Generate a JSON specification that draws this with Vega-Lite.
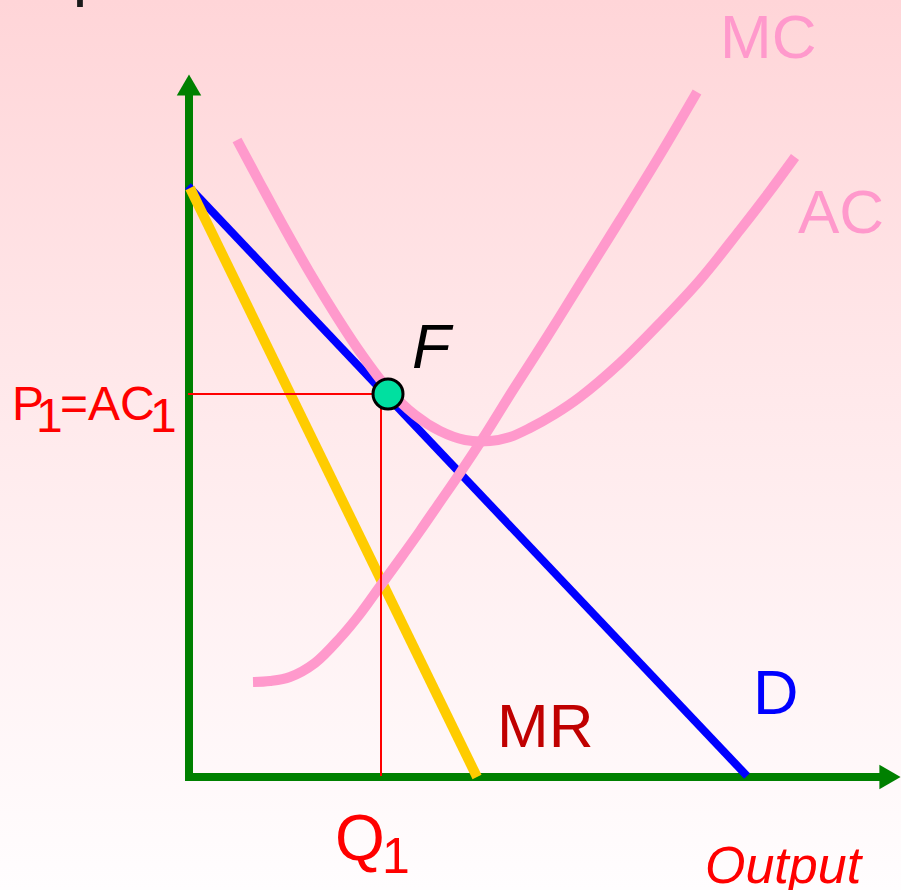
{
  "$schema": "https://vega.github.io/schema/vega-lite/v6.json",
  "width": 901,
  "height": 890,
  "autosize": {"type": "none"},
  "padding": 0,
  "background": "#ffffff",
  "config": {
    "view": {
      "stroke": null,
      "fill": {
        "gradient": "linear", "x1": 0, "y1": 0, "x2": 0, "y2": 1,
        "stops": [
          {"offset": 0, "color": "#ffd5d8"},
          {"offset": 0.45, "color": "#ffe9eb"},
          {"offset": 1, "color": "#fffdfe"}
        ]
      }
    },
    "text": {"font": "Liberation Sans", "align": "left", "baseline": "alphabetic"}
  },
  "datasets": {
    "axes": [
      {"x": 1, "y": -5, "x2": 1, "y2": 686},
      {"x": -3, "y": -1, "x2": 697, "y2": -1}
    ],
    "arrowUp": [{"x": 1, "y": 691}],
    "arrowRight": [{"x": 702, "y": -1}],
    "D": [{"x": 0, "y": 590}, {"x": 559, "y": 0}],
    "MR": [{"x": 2, "y": 588}, {"x": 289, "y": -1}],
    "MC": [
      {"x": 65, "y": 94}, {"x": 82, "y": 95}, {"x": 102, "y": 99}, {"x": 127, "y": 113},
      {"x": 152, "y": 138}, {"x": 172, "y": 162}, {"x": 193, "y": 191}, {"x": 212, "y": 217},
      {"x": 232, "y": 245}, {"x": 252, "y": 274}, {"x": 272, "y": 303}, {"x": 297, "y": 341},
      {"x": 325, "y": 386}, {"x": 359, "y": 439}, {"x": 392, "y": 492}, {"x": 432, "y": 556},
      {"x": 472, "y": 621}, {"x": 509, "y": 684}
    ],
    "AC": [
      {"x": 49, "y": 636}, {"x": 72, "y": 593}, {"x": 97, "y": 547}, {"x": 122, "y": 503},
      {"x": 147, "y": 462}, {"x": 172, "y": 424}, {"x": 200, "y": 387}, {"x": 227, "y": 361},
      {"x": 252, "y": 345}, {"x": 277, "y": 336}, {"x": 302, "y": 335}, {"x": 322, "y": 339},
      {"x": 342, "y": 348}, {"x": 367, "y": 362}, {"x": 392, "y": 379}, {"x": 432, "y": 413},
      {"x": 472, "y": 453}, {"x": 512, "y": 496}, {"x": 552, "y": 546}, {"x": 582, "y": 585},
      {"x": 607, "y": 619}
    ],
    "guides": [
      {"x": 0, "y": 382, "x2": 200, "y2": 382},
      {"x": 193, "y": 382, "x2": 193, "y2": 0}
    ],
    "F": [{"x": 200, "y": 382}],
    "pinkText": [{"x": 532, "y": 718, "t": "MC"}, {"x": 610, "y": 543, "t": "AC"}],
    "redText": [
      {"x": -176, "y": 356, "t": "P"}, {"x": -152, "y": 344, "t": "1"},
      {"x": -128, "y": 356, "t": "=AC"}, {"x": -38, "y": 344, "t": "1"}
    ],
    "qText": [{"x": 147, "y": -84, "t": "Q"}],
    "qSub": [{"x": 194, "y": -97, "t": "1"}],
    "outText": [{"x": 517, "y": -107, "t": "Output"}],
    "fText": [{"x": 224, "y": 408, "t": "F"}],
    "dText": [{"x": 565, "y": 62, "t": "D"}],
    "mrText": [{"x": 309, "y": 29, "t": "MR"}],
    "topText": [{"x": -116, "y": 769, "t": "P"}]
  },
  "encoding": {
    "x": {"field": "x", "type": "quantitative", "axis": null, "scale": {"domain": [-188, 713], "nice": false, "zero": false}},
    "y": {"field": "y", "type": "quantitative", "axis": null, "scale": {"domain": [-114, 776], "nice": false, "zero": false}}
  },
  "layer": [
    {
      "data": {"name": "axes"},
      "mark": {"type": "rule", "color": "#008000", "strokeWidth": 8},
      "encoding": {"x2": {"field": "x2"}, "y2": {"field": "y2"}}
    },
    {
      "data": {"name": "arrowUp"},
      "mark": {"type": "point", "shape": "triangle-up", "filled": true, "color": "#008000", "size": 600, "opacity": 1}
    },
    {
      "data": {"name": "arrowRight"},
      "mark": {"type": "point", "shape": "triangle-right", "filled": true, "color": "#008000", "size": 600, "opacity": 1}
    },
    {
      "data": {"name": "D"},
      "mark": {"type": "line", "color": "#0000ff", "strokeWidth": 8}
    },
    {
      "data": {"name": "MR"},
      "mark": {"type": "line", "color": "#ffcc00", "strokeWidth": 10}
    },
    {
      "data": {"name": "MC"},
      "mark": {"type": "line", "color": "#ff99cc", "strokeWidth": 10, "interpolate": "catmull-rom"}
    },
    {
      "data": {"name": "AC"},
      "mark": {"type": "line", "color": "#ff99cc", "strokeWidth": 10, "interpolate": "catmull-rom"}
    },
    {
      "data": {"name": "guides"},
      "mark": {"type": "rule", "color": "#ff0000", "strokeWidth": 2},
      "encoding": {"x2": {"field": "x2"}, "y2": {"field": "y2"}}
    },
    {
      "data": {"name": "F"},
      "mark": {"type": "point", "shape": "circle", "filled": true, "fill": "#00e0a0", "stroke": "#000000", "strokeWidth": 3, "size": 900, "opacity": 1}
    },
    {
      "data": {"name": "pinkText"},
      "mark": {"type": "text", "color": "#ff99cc", "fontSize": 62},
      "encoding": {"text": {"field": "t"}}
    },
    {
      "data": {"name": "redText"},
      "mark": {"type": "text", "color": "#ff0000", "fontSize": 48},
      "encoding": {"text": {"field": "t"}}
    },
    {
      "data": {"name": "qText"},
      "mark": {"type": "text", "color": "#ff0000", "fontSize": 64},
      "encoding": {"text": {"field": "t"}}
    },
    {
      "data": {"name": "qSub"},
      "mark": {"type": "text", "color": "#ff0000", "fontSize": 50},
      "encoding": {"text": {"field": "t"}}
    },
    {
      "data": {"name": "outText"},
      "mark": {"type": "text", "color": "#ff0000", "fontSize": 52, "fontStyle": "italic"},
      "encoding": {"text": {"field": "t"}}
    },
    {
      "data": {"name": "fText"},
      "mark": {"type": "text", "color": "#000000", "fontSize": 63, "fontStyle": "italic"},
      "encoding": {"text": {"field": "t"}}
    },
    {
      "data": {"name": "dText"},
      "mark": {"type": "text", "color": "#0000ff", "fontSize": 63},
      "encoding": {"text": {"field": "t"}}
    },
    {
      "data": {"name": "mrText"},
      "mark": {"type": "text", "color": "#c00000", "fontSize": 62},
      "encoding": {"text": {"field": "t"}}
    },
    {
      "data": {"name": "topText"},
      "mark": {"type": "text", "color": "#1a1a1a", "fontSize": 62},
      "encoding": {"text": {"field": "t"}}
    }
  ]
}
